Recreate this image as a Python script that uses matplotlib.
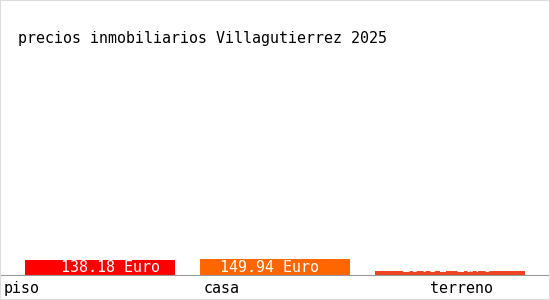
import matplotlib.pyplot as plt
from matplotlib.patches import Rectangle

# chart data
categories = ['piso', 'casa', 'terreno']
prices = [138.18, 149.94, 29.51]
bar_labels = ['138.18 Euro', '149.94 Euro', '29.51 Euro']
colors = ['#ff0000', '#ff6600', '#ee4422']
title = 'precios inmobiliarios Villagutierrez 2025'

plt.rcParams['font.family'] = ['DejaVu Sans Mono']

fig = plt.figure(figsize=(5.5, 3), dpi=100)
fig.patch.set_facecolor('white')
fig.patches.append(Rectangle((0, 0), 1, 1, transform=fig.transFigure,
                             fill=False, edgecolor='#dddddd', linewidth=1.5))

ax = fig.add_axes([0, 0.085, 1, 0.915])
x = [100, 275, 450]
ax.bar(x, prices, width=150, color=colors)
ax.set_xlim(0, 550)
ax.set_ylim(0, 2640)

# value labels are not quite centred in the original
value_offsets = [-39, -55, -48]
for xi, off, lab in zip(x, value_offsets, bar_labels):
    ax.annotate(lab, xy=(xi, 0), xytext=(off, 6.5), textcoords='offset pixels',
                ha='left', va='center', color='white', fontsize=10.8)

# category labels sit under the axis line, shifted a bit from the bars
label_offsets = [-96, -71, -20]
for xi, off, cat in zip(x, label_offsets, categories):
    ax.annotate(cat, xy=(xi, 0), xytext=(off, -14), textcoords='offset pixels',
                ha='left', va='center', color='black', fontsize=10.8)

for s in ['top', 'left', 'right']:
    ax.spines[s].set_visible(False)
ax.spines['bottom'].set_color('#999999')
ax.set_xticks([])
ax.set_yticks([])
ax.patch.set_alpha(0)

fig.text(18 / 550, 1 - 39 / 300, title, ha='left', va='center',
         fontsize=10.8, color='black')

fig.savefig('out.png', dpi=100)
